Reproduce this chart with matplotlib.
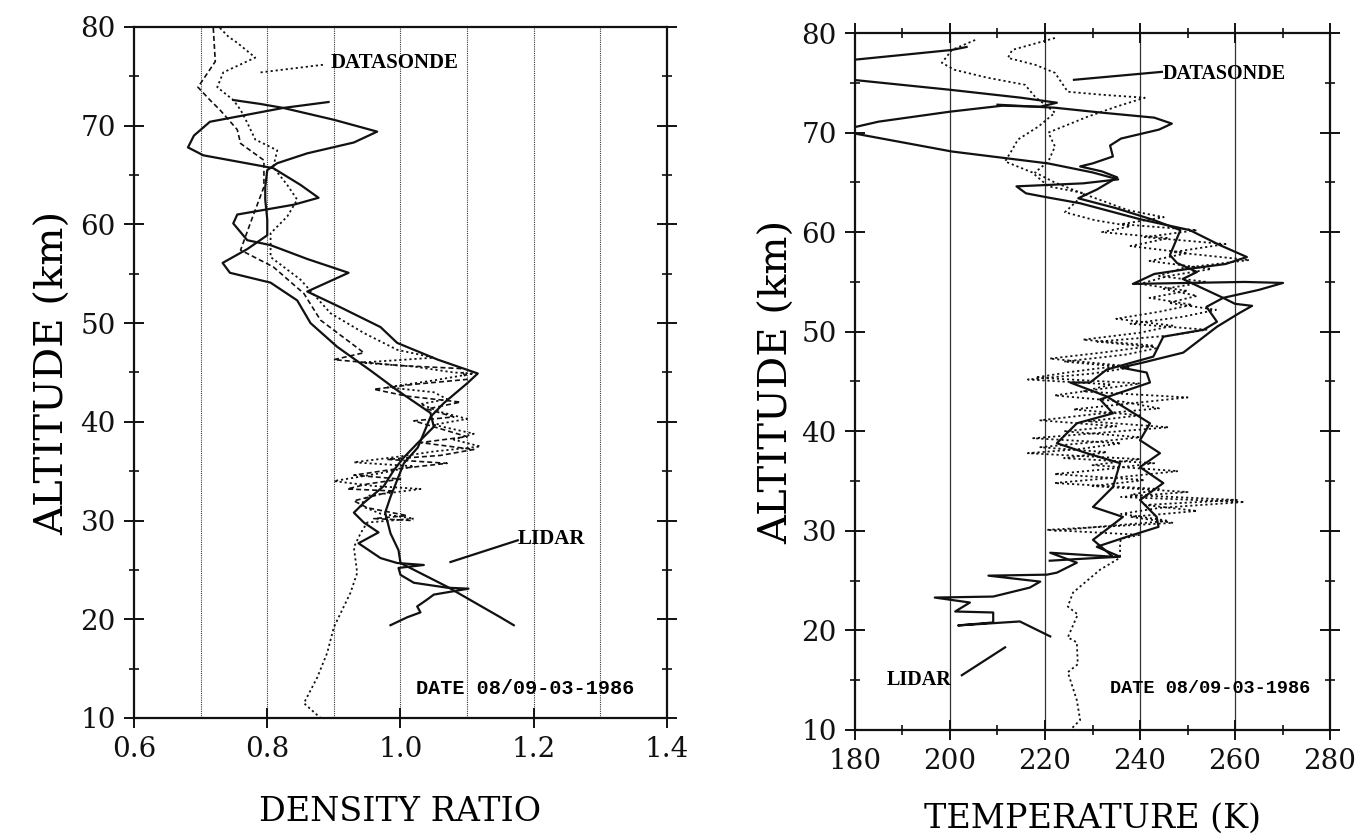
import numpy as np
import matplotlib
matplotlib.use("Agg")
import matplotlib.pyplot as plt
from matplotlib.ticker import MultipleLocator

plt.rcParams["font.family"] = "DejaVu Serif"

# ---- left panel: density ratio vs altitude ----
lidA_d = [0.892, 0.824, 0.714, 0.690, 0.681, 0.704, 0.809, 0.850, 0.877, 0.840, 0.755, 0.749,
          0.770, 0.805, 0.860, 0.922, 0.860, 0.910, 0.970, 0.995, 1.056, 1.116, 1.100, 1.065,
          1.045, 1.026, 1.005, 0.985, 0.977, 0.985, 0.997, 1.000, 1.070, 1.150, 1.170]
lidA_z = [72.4, 71.8, 70.4, 69.0, 67.8, 67.0, 65.7, 64.0, 62.7, 62.0, 61.0, 60.1,
          58.4, 57.9, 56.5, 55.1, 53.2, 51.6, 49.6, 48.0, 46.3, 44.9, 43.9, 41.9,
          40.5, 37.4, 35.8, 32.4, 30.8, 28.7, 27.0, 25.7, 23.3, 20.2, 19.4]

lidB_d = [0.749, 0.790, 0.824, 0.900, 0.965, 0.930, 0.860, 0.815, 0.800, 0.797, 0.797, 0.800,
          0.800, 0.770, 0.733, 0.744, 0.805, 0.845, 0.865, 0.905, 0.955, 0.995, 1.045, 1.050,
          1.025, 1.005, 0.990, 0.975, 0.945, 0.930, 0.945, 0.967, 0.937, 0.970, 0.995, 1.035,
          0.997, 1.000, 1.020, 1.070, 1.102, 1.050, 1.040, 1.025, 1.030, 1.010, 0.985]
lidB_z = [72.6, 72.2, 71.8, 70.6, 69.4, 68.3, 67.2, 66.2, 65.5, 63.8, 62.5, 60.5,
          58.9, 57.5, 56.1, 55.1, 54.1, 52.3, 50.0, 47.6, 45.2, 43.2, 40.9, 39.5,
          37.8, 36.4, 35.1, 33.5, 31.8, 30.8, 29.8, 28.8, 27.7, 26.2, 25.7, 25.5,
          25.2, 24.5, 23.7, 23.2, 23.1, 22.5, 22.0, 21.3, 20.7, 20.2, 19.4]

son1_d = [0.729, 0.742, 0.755, 0.782, 0.734, 0.725, 0.749, 0.760, 0.770, 0.782, 0.815, 0.809,
          0.830, 0.845, 0.830, 0.805, 0.805, 0.850, 0.895, 0.945, 0.995, 1.050, 0.940, 1.020,
          1.080, 1.110, 1.050, 0.980, 1.050, 1.070, 1.030, 1.060, 1.100, 1.050, 1.110, 1.080,
          1.120, 1.050, 1.000, 0.930, 1.020, 0.970, 0.900, 0.960, 1.030, 0.950, 0.940, 0.970,
          1.020, 0.950, 0.940, 0.930, 0.935, 0.925, 0.900, 0.890, 0.875, 0.855, 0.880]
son1_z = [79.9, 79.0, 78.4, 76.9, 75.4, 73.9, 72.6, 71.6, 70.3, 68.6, 67.5, 65.8,
          64.0, 62.5, 60.8, 59.1, 56.7, 54.4, 51.0, 49.0, 47.3, 46.5, 46.0, 45.6,
          45.0, 44.9, 44.2, 43.5, 43.0, 42.3, 41.8, 41.0, 40.3, 39.7, 38.8, 38.2,
          37.5, 37.0, 36.5, 35.9, 35.5, 34.8, 34.0, 33.5, 33.2, 32.5, 31.5, 30.7,
          30.2, 29.8, 28.7, 27.3, 24.7, 22.7, 19.2, 16.6, 14.1, 11.5, 10.0]

son2_d = [0.719, 0.722, 0.696, 0.714, 0.729, 0.755, 0.760, 0.795, 0.795, 0.775, 0.760, 0.809,
          0.855, 0.880, 0.945, 0.900, 1.000, 1.090, 1.100, 1.020, 0.960, 1.010, 1.090, 1.040,
          1.080, 1.020, 1.060, 1.100, 1.030, 1.110, 1.060, 0.980, 1.070, 0.990, 0.930, 1.000,
          0.950, 0.920, 0.990, 0.930, 0.950, 1.010, 0.960, 1.020]
son2_z = [79.9, 76.5, 73.9, 72.6, 71.6, 69.6, 68.2, 66.5, 63.8, 60.2, 57.4, 55.7,
          53.0, 50.3, 47.0, 46.3, 45.7, 45.4, 44.3, 43.8, 43.3, 42.6, 42.0, 41.3,
          40.5, 40.1, 39.3, 38.5, 37.9, 37.2, 36.6, 36.2, 35.8, 35.2, 34.6, 34.2,
          33.7, 33.2, 33.0, 32.0, 31.3, 30.5, 30.2, 30.0]

# ---- right panel: temperature vs altitude ----
tA_T = [179.5, 190.0, 200.4, 203.5]
tA_z = [77.3, 77.8, 78.3, 78.6]

tB_T = [179.5, 200.0, 215.0, 222.5, 219.0, 211.0, 200.0, 185.0, 179.5, 180.0, 200.4, 220.7,
        230.0, 235.4, 228.0, 214.0, 216.0, 220.4, 227.4, 240.0, 250.5, 256.8, 262.5, 258.0,
        250.0, 243.0, 238.5, 250.0, 262.0, 270.1, 265.0, 257.5, 260.0, 263.6, 261.0, 256.2,
        249.1, 240.6, 236.0, 241.4, 242.1, 231.6, 234.3, 226.7, 222.5, 228.8, 235.8, 234.3,
        230.1, 236.4, 233.7, 230.1, 234.3, 221.1, 226.7, 222.5, 220.4, 208.1, 219.0, 216.8,
        209.1, 196.8, 204.2, 201.1, 209.1, 209.1, 201.7, 214.7, 221.1]
tB_z = [75.3, 74.3, 73.5, 73.0, 72.6, 72.7, 72.1, 71.1, 70.5, 69.9, 68.1, 66.9,
        66.0, 65.3, 64.9, 64.6, 63.9, 63.5, 62.9, 61.3, 60.2, 58.7, 57.5, 56.8,
        56.3, 55.8, 54.8, 54.9, 55.0, 54.9, 54.2, 53.4, 52.8, 52.6, 51.9, 50.5,
        47.9, 46.9, 46.4, 45.9, 44.9, 43.2, 41.8, 40.8, 38.8, 37.8, 36.8, 34.4,
        32.4, 31.4, 30.4, 29.1, 27.4, 27.8, 26.8, 25.8, 25.6, 25.5, 24.9, 24.3,
        23.4, 23.3, 22.8, 21.9, 21.8, 20.8, 20.5, 20.9, 19.4]

tC_T = [210.0, 222.0, 232.0, 243.0, 246.7, 244.0, 236.0, 233.7, 234.3, 230.0, 227.4, 232.0,
        235.2, 231.0, 227.0, 235.0, 243.0, 248.5, 246.3, 247.8, 252.0, 249.0, 253.0, 257.5,
        254.0, 256.2, 253.4, 244.9, 242.8, 233.0, 229.5, 225.3, 233.0, 242.1, 240.0, 244.2,
        240.0, 244.9, 240.0, 243.5, 243.9, 237.2, 230.9, 235.8, 228.0, 221.0]
tC_z = [72.8, 72.5, 72.0, 71.5, 70.9, 70.3, 69.4, 68.7, 67.6, 66.9, 66.6, 66.1,
        65.5, 64.3, 63.4, 62.4, 61.2, 60.2, 57.7, 56.9, 56.0, 55.3, 54.4, 53.4,
        52.5, 51.0, 50.2, 49.5, 47.5, 46.2, 44.9, 44.9, 43.5, 40.8, 39.1, 37.8,
        36.4, 34.8, 33.1, 31.4, 30.4, 29.4, 28.4, 27.4, 27.2, 27.0]

tS1_T = [222.1, 213.1, 212.2, 218.0, 222.1, 224.8, 232.0, 241.0, 235.0, 229.0, 220.7, 222.1,
         220.7, 217.9, 222.0, 227.8, 237.5, 245.0, 236.0, 252.0, 241.0, 258.0, 247.0, 263.0,
         249.0, 244.0, 254.0, 245.0, 252.0, 246.0, 256.0, 249.0, 238.0, 254.0, 246.0, 231.0,
         244.0, 237.0, 224.0, 238.0, 230.0, 216.4, 234.0, 228.0, 250.0, 238.0, 226.0, 240.0,
         229.0, 246.0, 233.0, 217.5, 236.0, 227.0, 216.4, 240.0, 230.0, 248.0, 236.0, 222.0,
         244.0, 238.0, 260.4, 241.0, 252.0, 238.0, 247.0, 220.4, 240.0, 236.0, 235.8, 235.8,
         231.6, 225.9, 224.8, 226.9, 224.8, 226.7, 226.9, 224.8, 226.7, 227.4, 225.3]
tS1_z = [79.5, 78.3, 77.5, 76.8, 76.0, 74.1, 73.8, 73.5, 72.6, 71.6, 70.0, 68.6,
         67.1, 66.0, 65.0, 63.9, 62.2, 61.5, 60.8, 60.2, 59.5, 58.8, 58.0, 57.2,
         56.4, 55.6, 55.0, 54.3, 53.6, 52.9, 52.2, 51.5, 50.8, 50.2, 49.6, 49.0,
         48.4, 47.7, 47.0, 46.4, 45.8, 45.2, 44.7, 44.0, 43.4, 42.8, 42.2, 41.6,
         41.0, 40.4, 39.9, 39.3, 38.8, 38.2, 37.8, 37.2, 36.6, 36.0, 35.4, 34.8,
         34.2, 33.6, 33.1, 32.6, 32.0, 31.4, 30.8, 30.1, 29.6, 29.2, 28.8, 27.3,
         26.1, 23.8, 22.4, 21.6, 19.3, 18.8, 16.6, 15.8, 13.0, 11.0, 10.0]

tS2_T = [205.3, 200.4, 198.3, 201.0, 208.0, 215.8, 217.9, 222.1, 218.6, 214.3, 213.0, 211.6,
         217.3, 220.7, 228.4, 224.2, 230.5, 238.0, 232.0, 246.0, 238.0, 250.0, 242.0, 255.0,
         246.0, 240.0, 250.0, 242.0, 251.0, 244.0, 235.0, 247.0, 240.0, 228.0, 243.0, 232.0,
         221.0, 236.0, 226.0, 218.0, 240.0, 231.0, 222.0, 236.0, 244.0, 230.0, 219.0, 235.0,
         224.0, 240.0, 230.0, 219.0, 233.0, 224.0, 243.0, 233.0, 222.0, 241.0, 230.0, 250.0,
         236.0, 262.0, 244.0, 236.0, 246.0, 231.0, 222.0]
tS2_z = [79.3, 78.3, 77.0, 76.3, 75.5, 74.8, 73.6, 72.0, 70.6, 69.3, 68.2, 67.1,
         66.0, 64.6, 63.9, 62.0, 61.2, 60.6, 60.0, 59.4, 58.6, 57.9, 57.1, 56.3,
         55.6, 54.8, 54.1, 53.4, 52.7, 52.0, 51.3, 50.6, 49.9, 49.2, 48.6, 47.9,
         47.3, 46.6, 46.0, 45.4, 44.8, 44.2, 43.6, 43.0, 42.3, 41.7, 41.1, 40.5,
         40.0, 39.4, 38.9, 38.4, 37.9, 37.3, 36.8, 36.2, 35.7, 35.1, 34.5, 33.9,
         33.4, 32.9, 32.3, 31.7, 31.0, 30.4, 30.0]

ink = "#111111"
solid_kw = dict(color=ink, linewidth=1.6, solid_joinstyle="round")
dot_kw = dict(color=ink, linewidth=1.3, linestyle=(0, (1.2, 1.6)))
dash_kw = dict(color=ink, linewidth=1.2, linestyle=(0, (3, 1.8)))

fig = plt.figure(figsize=(13.59, 8.38), dpi=100)
ax1 = fig.add_axes([0.0986, 0.1432, 0.3922, 0.8246])
ax2 = fig.add_axes([0.6291, 0.1289, 0.3496, 0.8317])

# left panel
for xv in np.arange(0.7, 1.35, 0.1):
    ax1.axvline(xv, color="#333333", linewidth=0.8, linestyle=(0, (1, 1)), zorder=0)
ax1.plot(son1_d, son1_z, **dot_kw)
ax1.plot(son2_d, son2_z, **dash_kw)
ax1.plot(lidA_d, lidA_z, **solid_kw)
ax1.plot(lidB_d, lidB_z, **solid_kw)
ax1.set_xlim(0.6, 1.4)
ax1.set_ylim(10, 80)
ax1.set_xticks([0.6, 0.8, 1.0, 1.2, 1.4])
ax1.set_xticklabels(["0.6", "0.8", "1.0", "1.2", "1.4"])
ax1.yaxis.set_major_locator(MultipleLocator(10))
ax1.yaxis.set_minor_locator(MultipleLocator(5))
ax1.tick_params(axis="y", which="both", left=True, right=True, direction="inout")
ax1.tick_params(axis="x", which="both", top=False, direction="inout")
ax1.set_xlabel("DENSITY RATIO", fontsize=24, labelpad=24)
ax1.set_ylabel("ALTITUDE (km)", fontsize=29, labelpad=6)

ax1.plot([0.79, 0.887], [75.4, 76.2], **dot_kw)
ax1.text(0.895, 76.4, "DATASONDE", fontsize=15, family="Liberation Serif",
         fontweight="bold", va="center", ha="left")
ax1.plot([1.075, 1.176], [25.8, 28.0], **solid_kw)
ax1.text(1.176, 28.1, "LIDAR", fontsize=15, family="Liberation Serif",
         fontweight="bold", va="center", ha="left")
ax1.text(1.024, 13.0, "DATE 08/09-03-1986", fontsize=14.5, family="Liberation Mono",
         fontweight="bold", va="center", ha="left")

# right panel
for xv in [200, 220, 240, 260]:
    ax2.axvline(xv, color="#333333", linewidth=0.9, zorder=0)
ax2.plot(tS1_T, tS1_z, **dot_kw)
ax2.plot(tS2_T, tS2_z, **dot_kw)
ax2.plot(tA_T, tA_z, **solid_kw)
ax2.plot(tB_T, tB_z, **solid_kw)
ax2.plot(tC_T, tC_z, **solid_kw)
ax2.set_xlim(180, 280)
ax2.set_ylim(10, 80)
ax2.xaxis.set_major_locator(MultipleLocator(20))
ax2.xaxis.set_minor_locator(MultipleLocator(10))
ax2.yaxis.set_major_locator(MultipleLocator(10))
ax2.yaxis.set_minor_locator(MultipleLocator(5))
ax2.tick_params(axis="both", which="both", left=True, right=True, top=True,
                bottom=True, direction="inout")
ax2.set_xlabel("TEMPERATURE (K)", fontsize=24, labelpad=20)
ax2.set_ylabel("ALTITUDE (km)", fontsize=29, labelpad=4)

ax2.plot([226.1, 244.6], [75.3, 76.1], **solid_kw)
ax2.text(244.8, 75.9, "DATASONDE", fontsize=14.5, family="Liberation Serif",
         fontweight="bold", va="center", ha="left")
ax2.plot([202.5, 211.6], [15.5, 18.3], **solid_kw)
ax2.text(186.7, 15.0, "LIDAR", fontsize=14.5, family="Liberation Serif",
         fontweight="bold", va="center", ha="left")
ax2.text(233.7, 14.2, "DATE 08/09-03-1986", fontsize=13.4, family="Liberation Mono",
         fontweight="bold", va="center", ha="left")

for ax in (ax1, ax2):
    for sp in ax.spines.values():
        sp.set_linewidth(1.6)
        sp.set_color(ink)
    ax.tick_params(which="major", length=14, width=1.4, labelsize=20, pad=6, colors=ink)
    ax.tick_params(which="minor", length=7, width=1.2, colors=ink)

fig.savefig("out.png", dpi=100)
